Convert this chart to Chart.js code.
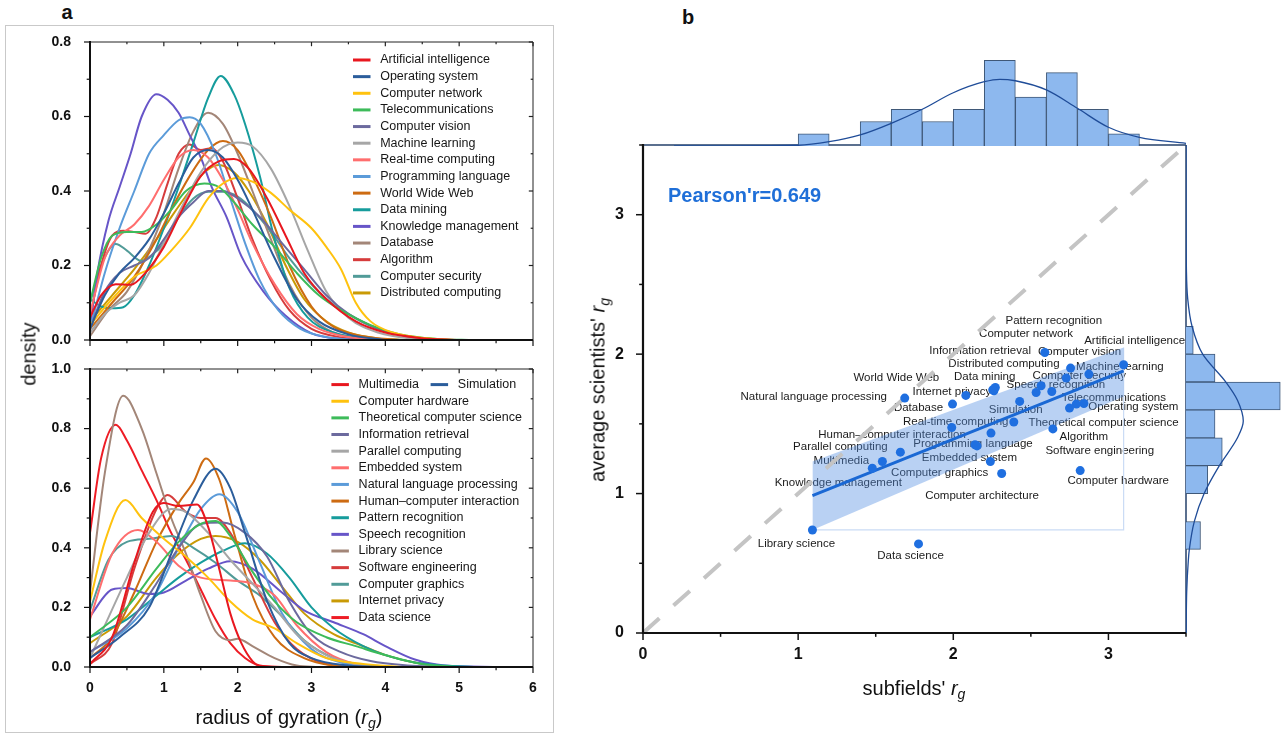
<!DOCTYPE html>
<html>
<head>
<meta charset="utf-8">
<title>Radius of gyration by subfield</title>
<script src="https://cdn.jsdelivr.net/npm/chart.js@4.4.1/dist/chart.umd.min.js"></script>
<style>
  body { margin: 0; background: #fff; font-family: "Liberation Sans", Arial, sans-serif; }
  #page { position: relative; width: 1287px; height: 735px; overflow: hidden; }
  canvas { position: absolute; }
  .t { position: absolute; transform: translate(-50%, -50%); white-space: nowrap; color: #111; }
  .rot { transform: translate(-50%, -50%) rotate(-90deg); }
  .panel { font-weight: bold; font-size: 20px; }
  .title { font-size: 20px; }
  sub { font-size: 70%; vertical-align: -0.35em; line-height: 0; }
  #boxA { position: absolute; left: 5px; top: 25px; width: 547px; height: 706px; border: 1.5px solid #c9c9c9; }
  #pearson { position: absolute; left: 668px; top: 184px; color: #1f6fd8; font-weight: bold; font-size: 20px; }
</style>
</head>
<body>
<div id="page">
  <div id="boxA"></div>
  <canvas id="densTop" width="545" height="316" style="left:0;top:30px"></canvas>
  <canvas id="densBottom" width="545" height="350" style="left:0;top:357px"></canvas>
  <canvas id="scatter" width="640" height="560" style="left:560px;top:130px"></canvas>
  <canvas id="histTop" width="543" height="106" style="left:643px;top:40px"></canvas>
  <canvas id="histRight" width="101" height="488" style="left:1186px;top:145px"></canvas>

  <div class="t panel" style="left:67px;top:12px">a</div>
  <div class="t panel" style="left:688px;top:17px">b</div>
  <div class="t title rot" style="left:29px;top:354px">density</div>
  <div class="t title" style="left:289px;top:717px">radius of gyration (<i>r</i><sub><i>g</i></sub>)</div>
  <div class="t title" style="left:914px;top:688px">subfields' <i>r</i><sub><i>g</i></sub></div>
  <div class="t title rot" style="left:598px;top:390px">average scientists' <i>r</i><sub><i>g</i></sub></div>
  <div id="pearson"></div>
</div>

<script>
Chart.defaults.font.family = '"Liberation Sans", Arial, sans-serif';
Chart.defaults.color = '#111';

// ---------- panel a: density of r_g, one curve per subfield ----------
const topNames = ['Artificial intelligence', 'Operating system', 'Computer network', 'Telecommunications',
  'Computer vision', 'Machine learning', 'Real-time computing', 'Programming language', 'World Wide Web',
  'Data mining', 'Knowledge management', 'Database', 'Algorithm', 'Computer security', 'Distributed computing'];
const topColors = ['#e8171f', '#2b5d9b', '#ffc20e', '#3dbb5a', '#6c6a9e', '#a6a6a6', '#ff6e6e', '#5b9bd9',
  '#cd6b12', '#169c9c', '#6755c8', '#a38678', '#d63c3c', '#519b98', '#c99a05'];
const topCurves = [
  [[0,0.06],[0.15,0.12],[0.35,0.15],[0.55,0.148],[0.75,0.18],[1.0,0.25],[1.25,0.35],[1.5,0.44],[1.75,0.48],[1.95,0.486],[2.15,0.46],[2.4,0.38],[2.65,0.28],[2.9,0.18],[3.2,0.11],[3.6,0.05],[4.0,0.02],[4.5,0.005],[5,0]],
  [[0,0.03],[0.2,0.12],[0.4,0.18],[0.6,0.22],[0.8,0.27],[1.0,0.34],[1.2,0.42],[1.4,0.49],[1.6,0.51],[1.8,0.49],[2.0,0.43],[2.2,0.35],[2.5,0.22],[2.8,0.11],[3.1,0.05],[3.5,0.015],[4,0]],
  [[0,0.04],[0.3,0.11],[0.6,0.17],[0.9,0.2],[1.1,0.24],[1.35,0.3],[1.6,0.38],[1.8,0.42],[2.0,0.435],[2.2,0.425],[2.45,0.395],[2.7,0.35],[3.0,0.3],[3.2,0.25],[3.4,0.19],[3.6,0.1],[3.8,0.05],[4.1,0.02],[4.6,0.004],[5,0]],
  [[0,0.1],[0.15,0.22],[0.3,0.28],[0.5,0.29],[0.7,0.29],[0.9,0.31],[1.1,0.35],[1.3,0.4],[1.55,0.42],[1.75,0.41],[1.95,0.37],[2.2,0.31],[2.5,0.25],[2.8,0.18],[3.1,0.12],[3.4,0.08],[3.8,0.04],[4.2,0.015],[4.7,0.003],[5.2,0]],
  [[0,0.03],[0.2,0.13],[0.4,0.18],[0.6,0.2],[0.8,0.22],[1.0,0.27],[1.2,0.33],[1.4,0.37],[1.6,0.4],[1.8,0.4],[2.0,0.38],[2.3,0.33],[2.6,0.26],[2.9,0.19],[3.2,0.12],[3.5,0.07],[3.9,0.03],[4.3,0.01],[4.8,0]],
  [[0,0.02],[0.2,0.07],[0.4,0.1],[0.6,0.12],[0.8,0.18],[1.0,0.26],[1.25,0.36],[1.5,0.45],[1.75,0.51],[2.0,0.53],[2.2,0.52],[2.45,0.46],[2.7,0.36],[2.95,0.24],[3.2,0.13],[3.5,0.06],[3.9,0.02],[4.4,0.003],[4.8,0]],
  [[0,0.07],[0.2,0.22],[0.4,0.28],[0.6,0.31],[0.8,0.36],[1.0,0.43],[1.2,0.49],[1.4,0.51],[1.6,0.49],[1.8,0.43],[2.0,0.35],[2.2,0.26],[2.5,0.15],[2.8,0.07],[3.1,0.03],[3.5,0.008],[4,0]],
  [[0,0.03],[0.2,0.18],[0.4,0.3],[0.6,0.4],[0.8,0.5],[1.0,0.55],[1.2,0.59],[1.35,0.598],[1.5,0.58],[1.7,0.5],[1.9,0.38],[2.1,0.26],[2.3,0.16],[2.55,0.08],[2.85,0.03],[3.2,0.008],[3.6,0]],
  [[0,0.03],[0.3,0.1],[0.6,0.17],[0.9,0.27],[1.1,0.35],[1.35,0.44],[1.6,0.51],[1.8,0.534],[2.0,0.51],[2.2,0.44],[2.45,0.33],[2.7,0.2],[3.0,0.09],[3.3,0.035],[3.7,0.01],[4.2,0]],
  [[0,0.11],[0.15,0.09],[0.3,0.085],[0.45,0.088],[0.6,0.12],[0.8,0.2],[1.0,0.3],[1.2,0.41],[1.4,0.53],[1.6,0.65],[1.77,0.709],[1.95,0.66],[2.1,0.58],[2.3,0.44],[2.5,0.27],[2.7,0.14],[2.95,0.06],[3.3,0.02],[3.8,0.003],[4.3,0]],
  [[0,0.03],[0.1,0.18],[0.25,0.32],[0.4,0.41],[0.55,0.5],[0.7,0.6],[0.9,0.66],[1.05,0.645],[1.2,0.61],[1.35,0.55],[1.5,0.49],[1.65,0.41],[1.85,0.33],[2.05,0.225],[2.35,0.13],[2.65,0.065],[3.0,0.018],[3.4,0.003],[3.8,0]],
  [[0,0.01],[0.25,0.08],[0.5,0.13],[0.75,0.22],[1.0,0.34],[1.2,0.46],[1.4,0.56],[1.6,0.61],[1.8,0.58],[2.0,0.5],[2.2,0.4],[2.45,0.27],[2.7,0.15],[3.0,0.06],[3.3,0.02],[3.7,0.004],[4,0]],
  [[0,0.06],[0.15,0.2],[0.3,0.28],[0.45,0.293],[0.6,0.29],[0.75,0.285],[0.9,0.33],[1.05,0.42],[1.2,0.5],[1.35,0.525],[1.5,0.51],[1.65,0.515],[1.8,0.48],[2.0,0.38],[2.2,0.27],[2.45,0.16],[2.7,0.08],[3.0,0.03],[3.4,0.007],[3.8,0]],
  [[0,0.1],[0.15,0.2],[0.35,0.258],[0.5,0.24],[0.69,0.213],[0.85,0.23],[1.0,0.26],[1.2,0.33],[1.4,0.38],[1.6,0.398],[1.8,0.398],[2.0,0.385],[2.2,0.35],[2.45,0.29],[2.7,0.22],[2.95,0.16],[3.2,0.11],[3.5,0.07],[3.9,0.03],[4.3,0.01],[4.8,0]],
  [[0,0.05],[0.3,0.12],[0.6,0.19],[0.9,0.27],[1.1,0.33],[1.35,0.4],[1.55,0.45],[1.74,0.47],[1.95,0.45],[2.15,0.4],[2.4,0.31],[2.65,0.2],[2.9,0.11],[3.2,0.05],[3.5,0.02],[3.9,0.004],[4.3,0]]
];

const bottomNames = ['Multimedia', 'Simulation', 'Computer hardware', 'Theoretical computer science',
  'Information retrieval', 'Parallel computing', 'Embedded system', 'Natural language processing',
  'Human\u2013computer interaction', 'Pattern recognition', 'Speech recognition', 'Library science',
  'Software engineering', 'Computer graphics', 'Internet privacy', 'Data science'];
const bottomColors = ['#e8171f', '#2b5d9b', '#ffc20e', '#3dbb5a', '#6c6a9e', '#a6a6a6', '#ff6e6e', '#5b9bd9',
  '#cd6b12', '#169c9c', '#6755c8', '#a38678', '#d63c3c', '#519b98', '#c99a05', '#ee1c25'];
const bottomCurves = [
  [[0,0.01],[0.3,0.1],[0.6,0.35],[0.85,0.52],[1.0,0.55],[1.2,0.54],[1.45,0.545],[1.6,0.47],[1.75,0.33],[1.9,0.18],[2.05,0.08],[2.2,0.02],[2.3,0.003],[2.5,0]],
  [[0,0.03],[0.4,0.1],[0.8,0.2],[1.1,0.38],[1.4,0.56],[1.7,0.665],[1.9,0.6],[2.1,0.45],[2.4,0.22],[2.7,0.08],[3.0,0.03],[3.5,0.005],[4,0]],
  [[0,0.22],[0.2,0.42],[0.48,0.56],[0.7,0.5],[1.0,0.43],[1.3,0.37],[1.6,0.3],[1.9,0.22],[2.2,0.16],[2.5,0.13],[2.8,0.08],[3.2,0.03],[3.7,0.01],[4.2,0]],
  [[0,0.1],[0.5,0.2],[0.9,0.33],[1.2,0.42],[1.5,0.48],[1.7,0.49],[1.9,0.44],[2.2,0.32],[2.5,0.22],[2.8,0.15],[3.2,0.1],[3.6,0.07],[4.0,0.04],[4.5,0.01],[5.0,0]],
  [[0,0.05],[0.5,0.14],[0.9,0.28],[1.2,0.4],[1.5,0.48],[1.8,0.485],[2.1,0.45],[2.4,0.37],[2.7,0.22],[3.0,0.11],[3.4,0.05],[3.8,0.02],[4.3,0.005],[4.8,0]],
  [[0,0.03],[0.5,0.3],[0.8,0.45],[1.1,0.53],[1.3,0.52],[1.6,0.45],[1.9,0.36],[2.2,0.28],[2.5,0.2],[2.8,0.11],[3.2,0.04],[3.6,0.01],[4,0]],
  [[0,0.16],[0.3,0.38],[0.65,0.46],[0.9,0.42],[1.2,0.34],[1.5,0.3],[1.9,0.29],[2.2,0.28],[2.5,0.24],[2.8,0.14],[3.2,0.05],[3.6,0.01],[4,0]],
  [[0,0.05],[0.5,0.13],[0.9,0.25],[1.2,0.4],[1.5,0.53],[1.75,0.58],[2.0,0.52],[2.3,0.35],[2.6,0.18],[3.0,0.06],[3.4,0.015],[3.8,0]],
  [[0,0.03],[0.3,0.1],[0.6,0.25],[0.9,0.42],[1.2,0.55],[1.4,0.62],[1.57,0.7],[1.75,0.63],[1.95,0.45],[2.2,0.24],[2.5,0.1],[2.9,0.03],[3.3,0.005],[3.7,0]],
  [[0,0.1],[0.5,0.16],[0.9,0.24],[1.2,0.3],[1.5,0.35],[1.8,0.39],[2.1,0.415],[2.4,0.38],[2.7,0.3],[3.0,0.2],[3.3,0.13],[3.7,0.07],[4.0,0.04],[4.4,0.015],[4.8,0.005],[5.2,0]],
  [[0,0.17],[0.3,0.26],[0.5,0.265],[0.8,0.245],[1.0,0.25],[1.3,0.29],[1.6,0.33],[1.9,0.355],[2.2,0.33],[2.6,0.25],[2.9,0.19],[3.3,0.15],[3.7,0.11],[4.0,0.07],[4.4,0.025],[4.8,0.005],[5.5,0]],
  [[0,0.25],[0.2,0.65],[0.45,0.91],[0.7,0.8],[0.9,0.65],[1.1,0.5],[1.3,0.38],[1.5,0.24],[1.7,0.12],[1.9,0.09],[2.0,0.095],[2.2,0.07],[2.5,0.03],[2.8,0.005],[3.1,0]],
  [[0,0.01],[0.3,0.08],[0.6,0.33],[0.9,0.53],[1.05,0.577],[1.3,0.52],[1.5,0.5],[1.7,0.5],[1.9,0.45],[2.2,0.3],[2.5,0.15],[2.8,0.06],[3.2,0.01],[3.6,0]],
  [[0,0.19],[0.25,0.36],[0.5,0.42],[0.8,0.43],[1.1,0.44],[1.4,0.4],[1.7,0.35],[2.0,0.29],[2.3,0.24],[2.6,0.17],[2.9,0.09],[3.3,0.03],[3.7,0.005],[4,0]],
  [[0,0.08],[0.5,0.17],[0.9,0.3],[1.2,0.38],[1.5,0.43],[1.7,0.44],[2.0,0.42],[2.3,0.36],[2.6,0.27],[2.9,0.18],[3.3,0.11],[3.7,0.07],[4.0,0.04],[4.5,0.01],[5.0,0]],
  [[0,0.45],[0.15,0.7],[0.35,0.813],[0.5,0.76],[0.7,0.66],[0.9,0.56],[1.1,0.45],[1.3,0.36],[1.5,0.26],[1.7,0.16],[1.9,0.08],[2.1,0.03],[2.3,0.005],[2.6,0]]
];

// ---------- panel b: subfield r_g vs average scientist r_g ----------
const fieldNames = ['Library science', 'Data science', 'Knowledge management', 'Multimedia', 'Parallel computing',
  'Natural language processing', 'Database', 'Real-time computing', 'Internet privacy', 'Data mining',
  'World Wide Web', 'Human\u2013computer interaction', 'Programming language', 'Embedded system',
  'Computer graphics', 'Computer architecture', 'Simulation', 'Speech recognition', 'Distributed computing',
  'Information retrieval', 'Pattern recognition', 'Computer network', 'Computer vision',
  'Artificial intelligence', 'Machine learning', 'Computer security', 'Telecommunications',
  'Operating system', 'Theoretical computer science', 'Algorithm', 'Software engineering', 'Computer hardware'];
const subfieldRg = [1.092, 1.776, 1.478, 1.543, 1.659, 1.687, 1.995, 1.990, 2.081, 2.254, 2.271, 2.140, 2.243,
  2.239, 2.312, 2.153, 2.428, 2.635, 2.262, 2.534, 2.590, 2.566, 2.756, 3.098, 2.874, 2.728, 2.842, 2.793,
  2.749, 2.642, 2.390, 2.818];
const scientistRg = [0.739, 0.639, 1.182, 1.230, 1.297, 1.685, 1.642, 1.474, 1.704, 1.744, 1.761, 1.350, 1.434,
  1.230, 1.144, 1.342, 1.661, 1.732, 1.737, 1.725, 2.012, 1.773, 1.900, 1.924, 1.857, 1.828, 1.646, 1.642,
  1.613, 1.464, 1.513, 1.165];
// where each name sits relative to its dot, in px
const labelOffsets = [[-16,14],[-8,12],[-34,15],[-41,-1],[-60,-5],[-91,-1],[-34,4],[4,-6],[-14,-4],[-8,-13],
  [-99,-10],[-83,-10],[-18,11],[-21,-4],[-62,-1],[5,50],[-4,8],[4,-7],[10,-27],[-56,-42],[9,-32],[-15,-52],
  [9,-16],[11,-24],[31,-7],[13,-2],[30,-6],[57,3],[34,15],[31,8],[86,29],[38,10]];

const pearsonR = 0.649;
const fitIntercept = 0.499;
const fitSlope = 0.446;
// confidence band at the low and high end of the data
const bandLow = [0.739, 1.697];
const bandHigh = [1.230, 2.048];

const binWidth = 0.2;
const xBinStart = 1.0, xBinCount = 11;
const yBinStart = 0.6, yBinCount = 8;
// fitted normal curves over the marginal histograms (value, count)
const xFitCurve = [[0.2,0],[0.5,0.01],[1.0,0.06],[1.2,0.35],[1.4,0.9],[1.6,1.85],[1.8,3.0],[2.0,4.35],[2.2,5.25],
  [2.3,5.45],[2.4,5.33],[2.6,4.58],[2.8,3.08],[3.0,1.53],[3.2,0.71],[3.5,0.22]];
const yFitCurve = [[0,0.02],[0.3,0.1],[0.52,0.32],[0.6,0.46],[0.8,1.15],[1.0,2.5],[1.2,4.6],[1.4,7.1],[1.52,7.9],
  [1.67,7.1],[1.8,5.5],[2.0,2.3],[2.2,0.83],[2.4,0.23],[2.6,0.06],[3.0,0.01],[3.5,0]];

document.getElementById('pearson').textContent = "Pearson'r=" + pearsonR;

// axis lines, frame and major/minor tick marks
const framePlugin = {
  id: 'frame',
  afterDraw(chart, args, o) {
    const { ctx, chartArea: a, scales: { x, y } } = chart;
    const seg = (x1, y1, x2, y2, color, w) => {
      ctx.strokeStyle = color;
      ctx.lineWidth = w;
      ctx.beginPath();
      ctx.moveTo(x1, y1);
      ctx.lineTo(x2, y2);
      ctx.stroke();
    };
    const steps = (s, minor) => {
      const out = [];
      for (let k = 0; s.min + k * minor <= s.max + 1e-9; k++) out.push(s.min + k * minor);
      return out;
    };
    const isMajor = (v, major) => Math.abs(v / major - Math.round(v / major)) < 1e-6;
    ctx.save();
    steps(x, o.xMinor).forEach(v => {
      const px = x.getPixelForValue(v);
      const len = isMajor(v, o.xMajor) ? o.tick : o.tick * 0.55;
      seg(px, a.bottom, px, a.bottom + len, o.axisColor, o.tickWidth);
      if (o.mirror) seg(px, a.top, px, a.top + len * 0.7, o.borderColor, o.tickWidth);
    });
    steps(y, o.yMinor).forEach(v => {
      const py = y.getPixelForValue(v);
      const len = isMajor(v, o.yMajor) ? o.tick : o.tick * 0.55;
      seg(a.left - len, py, a.left, py, o.axisColor, o.tickWidth);
      if (o.mirror) seg(a.right - len * 0.7, py, a.right, py, o.borderColor, o.tickWidth);
    });
    seg(a.left, a.top, a.right, a.top, o.borderColor, o.borderWidth);
    seg(a.right, a.top, a.right, a.bottom, o.borderColor, o.borderWidth);
    seg(a.left, a.top - o.axisWidth / 2, a.left, a.bottom + o.axisWidth / 2, o.axisColor, o.axisWidth);
    seg(a.left, a.bottom, a.right, a.bottom, o.axisColor, o.axisWidth);
    ctx.restore();
  }
};

// legend drawn inside the plot area
const keyPlugin = {
  id: 'keys',
  afterDraw(chart, args, o) {
    const { ctx, chartArea: a } = chart;
    ctx.save();
    ctx.font = '12.5px "Liberation Sans", Arial, sans-serif';
    ctx.textBaseline = 'middle';
    ctx.fillStyle = '#161616';
    o.rows.forEach((row, r) => {
      row.forEach((idx, c) => {
        const lx = a.left + o.x + o.colStep * c;
        const ly = a.top + o.y + r * o.rowStep;
        ctx.strokeStyle = o.colors[idx];
        ctx.lineWidth = 3;
        ctx.beginPath();
        ctx.moveTo(lx, ly);
        ctx.lineTo(lx + 17.5, ly);
        ctx.stroke();
        ctx.fillText(o.names[idx], lx + 27.2, ly);
      });
    });
    ctx.restore();
  }
};

function densityChart(id, names, colors, curves, yMax, rows, keyX, keyY, showXTicks, xAxisHeight) {
  return new Chart(document.getElementById(id), {
    type: 'line',
    data: {
      datasets: curves.map((pts, i) => ({
        label: names[i],
        data: pts.map(([x, y]) => ({ x, y })),
        borderColor: colors[i],
        borderWidth: 2,
        pointRadius: 0,
        cubicInterpolationMode: 'monotone',
        fill: false
      }))
    },
    options: {
      responsive: false,
      animation: false,
      devicePixelRatio: 1,
      layout: { padding: { left: 0, top: 12, right: 12, bottom: 0 } },
      plugins: {
        legend: { display: false },
        tooltip: { enabled: false },
        frame: { xMajor: 1, xMinor: 0.5, yMajor: 0.2, yMinor: 0.1, tick: 6, tickWidth: 1.2, mirror: true,
          axisColor: '#111', axisWidth: 2, borderColor: '#222', borderWidth: 1 },
        keys: { names, colors, rows, x: keyX, y: keyY, rowStep: 16.64, colStep: 99.2 }
      },
      scales: {
        x: {
          type: 'linear', min: 0, max: 6,
          grid: { display: false }, border: { display: false },
          ticks: { display: showXTicks, stepSize: 1, padding: 5, font: { size: 14, weight: 'bold' } },
          afterFit: s => { s.height = xAxisHeight; s.paddingLeft = 0; s.paddingRight = 0; }
        },
        y: {
          type: 'linear', min: 0, max: yMax,
          grid: { display: false }, border: { display: false },
          ticks: { stepSize: 0.2, padding: 11, font: { size: 14, weight: 'bold' }, callback: v => v.toFixed(1) },
          afterFit: s => { s.width = 90; s.paddingTop = 0; s.paddingBottom = 0; }
        }
      }
    },
    plugins: [framePlugin, keyPlugin]
  });
}

densityChart('densTop', topNames, topColors, topCurves, 0.8,
  topNames.map((n, i) => [i]), 263, 18, false, 6);
densityChart('densBottom', bottomNames, bottomColors, bottomCurves, 1.0,
  [[0, 1]].concat(bottomNames.slice(2).map((n, i) => [i + 2])), 241.4, 15.6, true, 40);

// subfield names sit under the band, fit line and dots
const namePlugin = {
  id: 'names',
  beforeDatasetsDraw(chart) {
    const { ctx, scales: { x, y } } = chart;
    ctx.save();
    ctx.font = '11.5px "Liberation Sans", Arial, sans-serif';
    ctx.fillStyle = '#1b1b1b';
    ctx.textAlign = 'center';
    ctx.textBaseline = 'middle';
    fieldNames.forEach((name, i) => {
      const [dx, dy] = labelOffsets[i];
      ctx.fillText(name, x.getPixelForValue(subfieldRg[i]) + dx, y.getPixelForValue(scientistRg[i]) + dy);
    });
    ctx.restore();
  }
};

const xMin = Math.min(...subfieldRg);
const xMax = Math.max(...subfieldRg);
const integerTicks = s => { s.ticks = s.ticks.filter(t => Number.isInteger(t.value)); };

new Chart(document.getElementById('scatter'), {
  type: 'scatter',
  data: {
    datasets: [
      {
        label: 'subfields',
        data: subfieldRg.map((x, i) => ({ x, y: scientistRg[i] })),
        pointRadius: 4.5,
        pointBackgroundColor: '#1f6fe0',
        pointBorderWidth: 0,
        order: 0
      },
      {
        type: 'line', label: 'fit',
        data: [{ x: xMin, y: fitIntercept + fitSlope * xMin }, { x: xMax, y: fitIntercept + fitSlope * xMax }],
        borderColor: '#1a68d4', borderWidth: 3, pointRadius: 0, order: 1
      },
      {
        type: 'line', label: 'y = x',
        data: [{ x: 0, y: 0 }, { x: 3.5, y: 3.5 }],
        borderColor: '#c4c4c4', borderWidth: 4, borderDash: [22, 19], pointRadius: 0, order: 2
      },
      {
        type: 'line', label: 'band low',
        data: [{ x: xMin, y: bandLow[0] }, { x: xMax, y: bandLow[1] }],
        borderColor: 'rgba(0,0,0,0)', borderWidth: 1, pointRadius: 0, order: 4
      },
      {
        type: 'line', label: 'band',
        data: [{ x: xMin, y: bandHigh[0] }, { x: xMax, y: bandHigh[1] }],
        borderColor: 'rgba(0,0,0,0)', borderWidth: 1, pointRadius: 0,
        fill: 3, backgroundColor: 'rgba(80,140,225,0.4)', order: 3
      },
      {
        type: 'line', label: 'band box',
        data: [{ x: xMin, y: bandLow[0] }, { x: xMax, y: bandLow[0] }, { x: xMax, y: bandHigh[1] }],
        borderColor: '#cadcf5', borderWidth: 1.2, pointRadius: 0, order: 5
      }
    ]
  },
  options: {
    responsive: false,
    animation: false,
    devicePixelRatio: 1,
    layout: { padding: { left: 0, top: 15, right: 14, bottom: 0 } },
    plugins: {
      legend: { display: false },
      tooltip: { enabled: false },
      frame: { xMajor: 1, xMinor: 0.5, yMajor: 1, yMinor: 0.5, tick: 7, tickWidth: 1.5, mirror: false,
        axisColor: '#111', axisWidth: 2.2, borderColor: '#24406a', borderWidth: 1.5 }
    },
    scales: {
      x: {
        type: 'linear', min: 0, max: 3.5,
        grid: { display: false }, border: { display: false },
        ticks: { stepSize: 1, padding: 4, font: { size: 16, weight: 'bold' } },
        afterBuildTicks: integerTicks,
        afterFit: s => { s.height = 57; s.paddingLeft = 0; s.paddingRight = 0; }
      },
      y: {
        type: 'linear', min: 0, max: 3.5,
        grid: { display: false }, border: { display: false },
        ticks: { stepSize: 1, padding: 11, font: { size: 16, weight: 'bold' } },
        afterBuildTicks: integerTicks,
        afterFit: s => { s.width = 83; s.paddingTop = 0; s.paddingBottom = 0; }
      }
    }
  },
  plugins: [namePlugin, framePlugin]
});

// ---------- marginal histograms ----------
function binCounts(values, start, count) {
  const counts = new Array(count).fill(0);
  values.forEach(v => {
    const k = Math.floor((v - start) / binWidth);
    if (k >= 0 && k < count) counts[k]++;
  });
  return counts;
}

const xCounts = binCounts(subfieldRg, xBinStart, xBinCount);
const yCounts = binCounts(scientistRg, yBinStart, yBinCount);
const barStyle = {
  backgroundColor: '#8db8ee', borderColor: '#3f5878', borderWidth: 1,
  barPercentage: 1, categoryPercentage: 1, order: 1
};
const curveStyle = { borderColor: '#1f4c98', borderWidth: 1.3, pointRadius: 0, cubicInterpolationMode: 'monotone', order: 0 };

new Chart(document.getElementById('histTop'), {
  type: 'bar',
  data: {
    datasets: [
      Object.assign({ type: 'line', data: xFitCurve.map(([v, c]) => ({ x: v, y: c })) }, curveStyle),
      Object.assign({
        data: xCounts.map((c, i) => ({ x: xBinStart + (i + 0.5) * binWidth, y: c })).filter(d => d.y > 0)
      }, barStyle)
    ]
  },
  options: {
    responsive: false, animation: false, devicePixelRatio: 1,
    layout: { padding: 0 },
    plugins: { legend: { display: false }, tooltip: { enabled: false } },
    scales: {
      x: { type: 'linear', min: 0, max: 3.5, offset: false, display: false, ticks: { stepSize: 1 } },
      y: { type: 'linear', min: 0, max: 8.66, display: false }
    }
  }
});

new Chart(document.getElementById('histRight'), {
  type: 'bar',
  data: {
    datasets: [
      Object.assign({ type: 'line', data: yFitCurve.map(([v, c]) => ({ x: c, y: v })) }, curveStyle),
      Object.assign({
        data: yCounts.map((c, i) => ({ y: yBinStart + (i + 0.5) * binWidth, x: c })).filter(d => d.x > 0)
      }, barStyle)
    ]
  },
  options: {
    indexAxis: 'y',
    responsive: false, animation: false, devicePixelRatio: 1,
    layout: { padding: 0 },
    plugins: { legend: { display: false }, tooltip: { enabled: false } },
    scales: {
      y: { type: 'linear', min: 0, max: 3.5, offset: false, display: false, ticks: { stepSize: 1 } },
      x: { type: 'linear', min: 0, max: 13.93, display: false }
    }
  }
});
</script>
</body>
</html>
